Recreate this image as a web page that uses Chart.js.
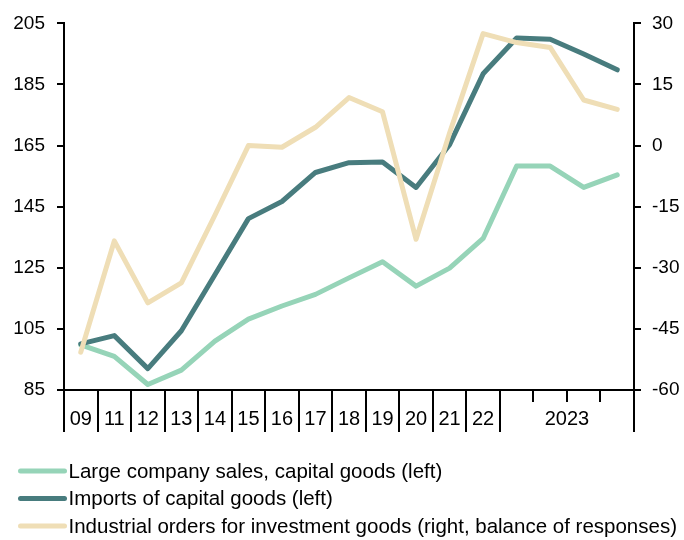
<!DOCTYPE html>
<html>
<head>
<meta charset="utf-8">
<script src="https://cdn.jsdelivr.net/npm/chart.js@4.4.0/dist/chart.umd.min.js"></script>
<style>
  html, body { margin: 0; padding: 0; background: #ffffff; }
  #wrap { width: 684px; height: 540px; }
</style>
</head>
<body>
<div id="wrap"><canvas id="chart" width="684" height="540"></canvas></div>
<script>
// Periods: annual points 2009–2022, then the four quarters of 2023
const categories = ['09', '11', '12', '13', '14', '15', '16', '17', '18', '19', '20', '21', '22',
  '2023 Q1', '2023 Q2', '2023 Q3', '2023 Q4'];
const tickLabels = ['09', '11', '12', '13', '14', '15', '16', '17', '18', '19', '20', '21', '22', '', '', '', ''];
const yearSpanLabel = '2023';
const yearSpanFrom = 13;
const yearSpanTo = 16;

// Left axis (index)
const largeCompanySales = [99.8, 96.0, 86.8, 91.5, 101.0, 108.2, 112.5, 116.3, 121.7, 127.0,
  119.0, 124.9, 134.6, 158.3, 158.3, 151.3, 155.4];
const importsCapitalGoods = [100.1, 102.8, 92.0, 104.4, 122.7, 141.1, 146.7, 156.2, 159.4, 159.6,
  151.3, 165.3, 188.5, 200.2, 199.8, 195.0, 189.8];
// Right axis (balance of responses)
const industrialOrders = [-50.7, -23.4, -38.6, -33.7, -17.1, 0.0, -0.4, 4.5, 11.8, 8.3,
  -23.0, 3.1, 27.5, 25.3, 24.1, 11.2, 8.9];

const leftTicks = [85, 105, 125, 145, 165, 185, 205];
const rightTicks = [-60, -45, -30, -15, 0, 15, 30];

const seriesNames = [
  'Large company sales, capital goods (left)',
  'Imports of capital goods (left)',
  'Industrial orders for investment goods (right, balance of responses)'
];
const seriesColors = ['#96d4b8', '#487c7e', '#efdeb6'];

const FONT = "'Liberation Sans', Arial, sans-serif";

// Short quarter ticks inside the 2023 block and the spanning year label
const quarterTicks = {
  id: 'quarterTicks',
  afterDraw(chart, args, opts) {
    const x = chart.scales.x;
    const ctx = chart.ctx;
    ctx.save();
    ctx.strokeStyle = '#000';
    ctx.lineWidth = 2;
    for (let i = yearSpanFrom + 1; i <= yearSpanTo; i++) {
      const px = Math.round((x.getPixelForValue(i - 1) + x.getPixelForValue(i)) / 2);
      ctx.beginPath();
      ctx.moveTo(px, x.top);
      ctx.lineTo(px, x.top + opts.length);
      ctx.stroke();
    }
    const item = x.getLabelItems()[0];
    const cx = (x.getPixelForValue(yearSpanFrom) + x.getPixelForValue(yearSpanTo)) / 2;
    ctx.fillStyle = '#000';
    ctx.font = opts.font;
    ctx.textAlign = 'center';
    ctx.textBaseline = item.options.textBaseline;
    ctx.fillText(yearSpanLabel, cx, item.options.translation[1] + item.textOffset);
    ctx.restore();
  }
};

// Stacked legend rows under the axis
const legendRows = {
  id: 'legendRows',
  afterDraw(chart, args, opts) {
    const ctx = chart.ctx;
    ctx.save();
    chart.data.datasets.forEach((ds, i) => {
      const y = opts.top + i * opts.rowHeight;
      ctx.strokeStyle = ds.borderColor;
      ctx.lineWidth = opts.lineWidth;
      ctx.lineCap = 'round';
      ctx.beginPath();
      ctx.moveTo(opts.left, y);
      ctx.lineTo(opts.left + opts.lineLength, y);
      ctx.stroke();
      ctx.fillStyle = '#000';
      ctx.font = opts.font;
      ctx.textAlign = 'left';
      ctx.textBaseline = 'middle';
      ctx.fillText(ds.label, opts.left + opts.lineLength + opts.gap, y + 1);
    });
    ctx.restore();
  }
};

const mkLine = (label, data, color, axis, order) => ({
  label, data, yAxisID: axis, order,
  borderColor: color, backgroundColor: color,
  borderWidth: 5, pointRadius: 0, pointHoverRadius: 0,
  borderCapStyle: 'round', borderJoinStyle: 'round',
  tension: 0, fill: false
});

new Chart(document.getElementById('chart'), {
  type: 'line',
  data: {
    labels: categories,
    datasets: [
      mkLine(seriesNames[0], largeCompanySales, seriesColors[0], 'y', 2),
      mkLine(seriesNames[1], importsCapitalGoods, seriesColors[1], 'y', 1),
      mkLine(seriesNames[2], industrialOrders, seriesColors[2], 'y1', 0)
    ]
  },
  options: {
    responsive: false,
    devicePixelRatio: 1,
    animation: false,
    layout: { padding: { top: 19, right: 0, bottom: 0, left: 0 } },
    plugins: {
      legend: { display: false },
      tooltip: { enabled: false },
      quarterTicks: { length: 12, font: '20px ' + FONT },
      legendRows: { top: 471, rowHeight: 27.5, left: 20.5, lineLength: 44, lineWidth: 5, gap: 4, font: '20.5px ' + FONT }
    },
    scales: {
      x: {
        type: 'category',
        offset: true,
        border: { display: true, color: '#000', width: 2 },
        grid: {
          offset: true,
          drawOnChartArea: false,
          drawTicks: true,
          tickLength: 42,
          lineWidth: 2,
          color: (c) => (c.index > yearSpanFrom && c.index <= yearSpanTo) ? 'rgba(0,0,0,0)' : '#000'
        },
        ticks: {
          autoSkip: false,
          maxRotation: 0,
          minRotation: 0,
          padding: -25,
          color: '#000',
          font: { family: FONT, size: 20 },
          callback: (v, i) => tickLabels[i]
        },
        afterFit: (s) => { s.height = 150; }
      },
      y: {
        position: 'left',
        min: 85, max: 205,
        border: { display: true, color: '#000', width: 2 },
        grid: { drawOnChartArea: false, drawTicks: true, tickLength: 7, lineWidth: 2, color: '#000' },
        ticks: { padding: 12, color: '#000', font: { family: FONT, size: 19 } },
        afterBuildTicks: (s) => { s.ticks = leftTicks.map(v => ({ value: v })); },
        afterFit: (s) => { s.width = 64; }
      },
      y1: {
        position: 'right',
        min: -60, max: 30,
        border: { display: true, color: '#000', width: 2 },
        grid: { drawOnChartArea: false, drawTicks: true, tickLength: 7, lineWidth: 2, color: '#000' },
        ticks: { padding: 11, color: '#000', font: { family: FONT, size: 19 } },
        afterBuildTicks: (s) => { s.ticks = rightTicks.map(v => ({ value: v })); },
        afterFit: (s) => { s.width = 50; }
      }
    }
  },
  plugins: [quarterTicks, legendRows]
});
</script>
</body>
</html>
